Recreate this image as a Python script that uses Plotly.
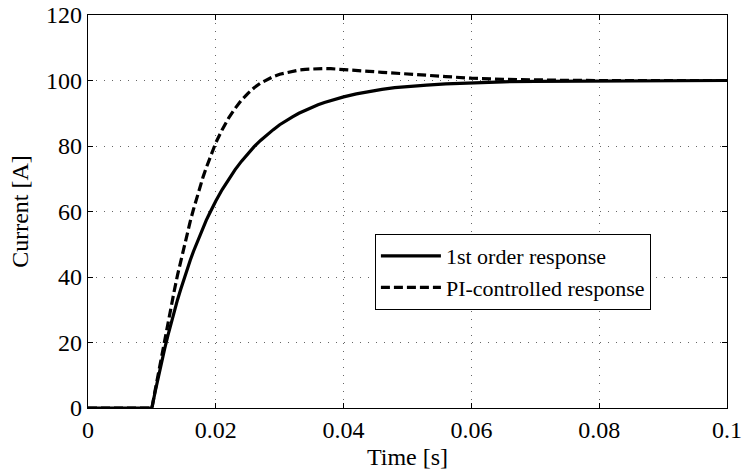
import plotly.graph_objects as go

# Time [s] and current [A]
t_first = [0.0, 0.010, 0.0105, 0.011, 0.0115, 0.012, 0.0125, 0.013, 0.0135, 0.014, 0.0145,
           0.015, 0.0155, 0.016, 0.0165, 0.017, 0.0175, 0.018, 0.0185, 0.019, 0.0195,
           0.020, 0.021, 0.022, 0.023, 0.024, 0.025, 0.026, 0.027, 0.028, 0.029,
           0.030, 0.031, 0.032, 0.033, 0.034, 0.035, 0.036, 0.037, 0.038, 0.039,
           0.040, 0.042, 0.044, 0.046, 0.048, 0.050, 0.053, 0.056, 0.060, 0.065,
           0.070, 0.080, 0.090, 0.100]
i_first = [0.0, 0.0, 4.9, 9.5, 13.9, 18.1, 22.1, 25.9, 29.5, 33.0, 36.2,
           39.3, 42.3, 45.1, 47.8, 50.3, 52.8, 55.1, 57.3, 59.3, 61.3,
           63.2, 66.7, 69.9, 72.7, 75.3, 77.7, 79.8, 81.7, 83.5, 85.0,
           86.5, 87.8, 88.9, 90.0, 90.9, 91.8, 92.6, 93.3, 93.9, 94.5,
           95.0, 95.9, 96.7, 97.3, 97.8, 98.2, 98.6, 99.0, 99.3, 99.6,
           99.75, 99.9, 99.97, 100.0]

t_pi = [0.0, 0.010, 0.0105, 0.011, 0.0115, 0.012, 0.0125, 0.013, 0.0135, 0.014, 0.0145,
        0.015, 0.0155, 0.016, 0.0165, 0.017, 0.0175, 0.018, 0.0185, 0.019, 0.0195,
        0.020, 0.021, 0.022, 0.023, 0.024, 0.025, 0.026, 0.027, 0.028, 0.029,
        0.030, 0.031, 0.032, 0.033, 0.034, 0.035, 0.036, 0.037, 0.038, 0.039,
        0.040, 0.042, 0.044, 0.046, 0.048, 0.050, 0.053, 0.056, 0.060, 0.065,
        0.070, 0.075, 0.080, 0.090, 0.100]
i_pi = [0.0, 0.0, 5.3, 10.5, 15.8, 21.0, 26.0, 31.0, 35.8, 40.5, 44.8,
        49.0, 53.1, 57.0, 60.6, 64.0, 67.3, 70.5, 73.3, 76.0, 78.6,
        81.0, 85.0, 88.5, 91.4, 94.0, 96.0, 97.8, 99.2, 100.3, 101.2,
        101.9, 102.4, 102.9, 103.2, 103.4, 103.55, 103.6, 103.65, 103.6, 103.5,
        103.4, 103.1, 102.8, 102.5, 102.3, 102.0, 101.6, 101.2, 100.7, 100.35,
        100.15, 100.05, 100.0, 100.0, 100.0]

x_ticks = [0, 0.02, 0.04, 0.06, 0.08, 0.1]
x_labels = ["0", "0.02", "0.04", "0.06", "0.08", "0.1"]
y_ticks = [0, 20, 40, 60, 80, 100, 120]
y_labels = ["0", "20", "40", "60", "80", "100", "120"]

font_family = "Liberation Serif, Times New Roman, serif"

fig = go.Figure()
fig.add_trace(go.Scatter(x=t_first, y=i_first, mode="lines", name="1st order response",
                         line=dict(color="black", width=3.2)))
fig.add_trace(go.Scatter(x=t_pi, y=i_pi, mode="lines", name="PI-controlled response",
                         line=dict(color="black", width=3.2, dash="9px,4px")))

axis_common = dict(
    showline=True, linecolor="black", linewidth=1.3, mirror="ticks",
    ticks="inside", ticklen=5, tickcolor="black", tickwidth=1,
    showgrid=True, gridcolor="#666", gridwidth=1, griddash="1px,7px",
    zeroline=False, automargin=False,
    tickfont=dict(family=font_family, size=24, color="black"),
)

fig.update_xaxes(range=[0, 0.1], tickvals=x_ticks, ticktext=x_labels,
                 title=dict(text="Time [s]", font=dict(family=font_family, size=24, color="black"),
                            standoff=6),
                 **axis_common)
fig.update_yaxes(range=[0, 120], tickvals=y_ticks, ticktext=y_labels,
                 title=dict(text="Current [A]", font=dict(family=font_family, size=24, color="black"),
                            standoff=10),
                 **axis_common)

fig.update_layout(
    width=742, height=470,
    margin=dict(l=88, r=15, t=15, b=62),
    font=dict(family=font_family, size=24, color="black"),
    paper_bgcolor="white", plot_bgcolor="white",
    showlegend=True,
    legend=dict(x=0.449, y=0.4427, xanchor="left", yanchor="top",
                bgcolor="white", bordercolor="black", borderwidth=1,
                font=dict(family=font_family, size=22, color="black"),
                itemwidth=60, tracegroupgap=0),
)

fig.write_html("out.html")
